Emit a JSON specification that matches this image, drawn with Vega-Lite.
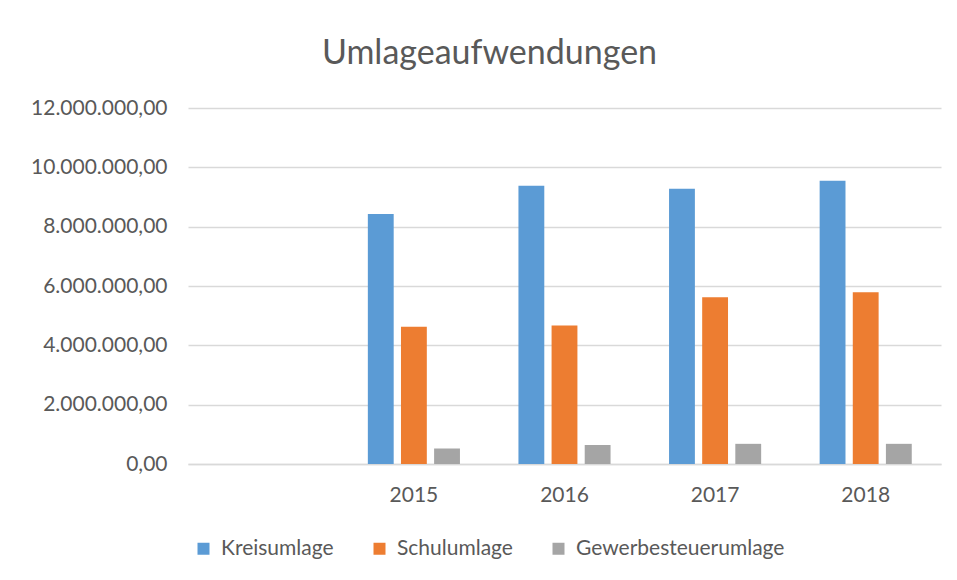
{
  "$schema": "https://vega.github.io/schema/vega-lite/v6.json",
  "width": 753,
  "height": 356,
  "autosize": {"type": "none"},
  "padding": {"left": 188, "top": 108, "right": 16, "bottom": 116},
  "background": "white",
  "config": {
    "locale": {"number": {"decimal": ",", "thousands": ".", "grouping": [3], "currency": ["", " €"]}},
    "font": "Lato",
    "view": {"stroke": null},
    "axis": {"labelColor": "#595959", "labelFont": "Lato", "titleColor": "#595959"}
  },
  "title": {
    "text": "Umlageaufwendungen",
    "fontSize": 34,
    "font": "Lato",
    "fontWeight": "normal",
    "color": "#595959",
    "anchor": "middle",
    "offset": 26,
    "dx": -75
  },
  "data": {
    "values": [
      {"jahr": "2015", "art": "Kreisumlage", "betrag": 8430000},
      {"jahr": "2015", "art": "Schulumlage", "betrag": 4630000},
      {"jahr": "2015", "art": "Gewerbesteuerumlage", "betrag": 520000},
      {"jahr": "2016", "art": "Kreisumlage", "betrag": 9380000},
      {"jahr": "2016", "art": "Schulumlage", "betrag": 4670000},
      {"jahr": "2016", "art": "Gewerbesteuerumlage", "betrag": 640000},
      {"jahr": "2017", "art": "Kreisumlage", "betrag": 9280000},
      {"jahr": "2017", "art": "Schulumlage", "betrag": 5620000},
      {"jahr": "2017", "art": "Gewerbesteuerumlage", "betrag": 680000},
      {"jahr": "2018", "art": "Kreisumlage", "betrag": 9550000},
      {"jahr": "2018", "art": "Schulumlage", "betrag": 5790000},
      {"jahr": "2018", "art": "Gewerbesteuerumlage", "betrag": 680000}
    ]
  },
  "mark": {"type": "bar"},
  "encoding": {
    "x": {
      "field": "jahr",
      "type": "nominal",
      "scale": {"domain": [" ", "2015", "2016", "2017", "2018"], "paddingInner": 0.34, "paddingOuter": 0.17},
      "axis": {
        "title": null,
        "labelAngle": 0,
        "labelFontSize": 21,
        "labelPadding": 20,
        "ticks": false,
        "domainColor": "#d9d9d9",
        "domainWidth": 1.5
      }
    },
    "xOffset": {
      "field": "art",
      "type": "nominal",
      "sort": ["Kreisumlage", "Schulumlage", "Gewerbesteuerumlage"],
      "scale": {"paddingInner": 0.22, "paddingOuter": 0.11}
    },
    "y": {
      "field": "betrag",
      "type": "quantitative",
      "scale": {"domain": [0, 12000000], "nice": false},
      "axis": {
        "title": null,
        "values": [0, 2000000, 4000000, 6000000, 8000000, 10000000, 12000000],
        "format": ",.2f",
        "labelFontSize": 21,
        "labelPadding": 21,
        "ticks": false,
        "domain": false,
        "gridColor": "#d9d9d9",
        "gridWidth": 1.5
      }
    },
    "color": {
      "field": "art",
      "type": "nominal",
      "sort": ["Kreisumlage", "Schulumlage", "Gewerbesteuerumlage"],
      "scale": {"domain": ["Kreisumlage", "Schulumlage", "Gewerbesteuerumlage"], "range": ["#5B9BD5", "#ED7D31", "#A5A5A5"]},
      "legend": {
        "title": null,
        "orient": "none",
        "legendX": 5,
        "legendY": 430,
        "direction": "horizontal",
        "symbolType": "square",
        "symbolSize": 144,
        "symbolStrokeWidth": 0,
        "labelFontSize": 21,
        "labelOffset": 7,
        "labelColor": "#595959",
        "labelFont": "Lato",
        "columnPadding": 35,
        "labelLimit": 300
      }
    }
  }
}
